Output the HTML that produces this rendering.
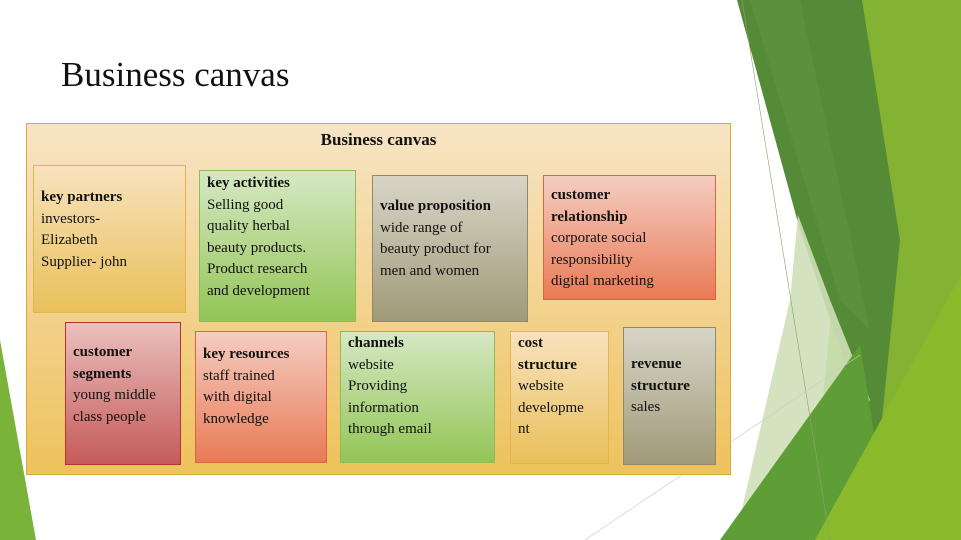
<!DOCTYPE html>
<html><head><style>
body{margin:0;width:961px;height:540px;position:relative;background:#fff;overflow:hidden;font-family:"Liberation Serif",serif;}
.b{position:absolute;box-sizing:border-box;font-size:15px;line-height:21.5px;color:#111;padding:0 7px;}
.b b{font-weight:bold;}
.y{background:linear-gradient(#f8e2bd,#e9c05a);border:1px solid #e2b64c;}
.g{background:linear-gradient(#d6e8c4,#93c556);border:1px solid #8dbb57;}
.s{background:linear-gradient(#d8d5c8,#a09a78);border:1px solid #8f8a6c;}
.r{background:linear-gradient(#f5cdc2,#e97a56);border:1px solid #d9663f;}
.m{background:linear-gradient(#ebc0bd,#c55a59);border:1px solid #b43434;}
</style></head><body>
<svg width="961" height="540" style="position:absolute;left:0;top:0">
<polygon points="0,340 0,540 36,540" fill="#7ab33a"/>
<polygon points="860,0 961,0 961,540 810,540" fill="#84b334"/>
<polygon points="737,0 862,0 900,240 878,460 800,230" fill="#558b36"/>
<polygon points="750,0 800,0 870,330 840,300" fill="#5f9640" opacity="0.6"/>
<polygon points="798,215 830,300 870,400 800,470 735,540 760,430 790,300" fill="#cfdfb8" opacity="0.9"/>
<polygon points="720,540 860,345 880,470 835,540" fill="#5f9e36"/>
<polygon points="961,275 961,540 815,540" fill="#8ab92c"/>
<line x1="742" y1="0" x2="830" y2="540" stroke="#8aa07a" stroke-width="0.6"/>
<line x1="585" y1="540" x2="860" y2="355" stroke="#c8c8c8" stroke-width="0.6"/>
</svg>
<div style="position:absolute;left:61px;top:55px;font-size:35px;color:#111;">Business canvas</div>
<div style="position:absolute;left:26px;top:123px;width:705px;height:352px;box-sizing:border-box;background:linear-gradient(#f7e4c4,#eec25c);border:1px solid #d9a93a;"></div>
<div style="position:absolute;left:26px;top:130px;width:705px;text-align:center;font-weight:bold;font-size:17px;color:#111;">Business canvas</div>
<div class="b y" style="left:33px;top:165px;width:153px;height:148px;padding-top:21px;"><b>key partners</b><br>investors-<br>Elizabeth<br>Supplier- john</div>
<div class="b g" style="left:199px;top:170px;width:157px;height:152px;padding-top:2px;"><b>key activities</b><br>Selling good<br>quality herbal<br>beauty products.<br>Product research<br>and development</div>
<div class="b s" style="left:372px;top:175px;width:156px;height:147px;padding-top:20px;"><b>value proposition</b><br>wide range of<br>beauty product for<br>men and women</div>
<div class="b r" style="left:543px;top:175px;width:173px;height:125px;padding-top:9px;"><b>customer<br>relationship</b><br>corporate social<br>responsibility<br>digital marketing</div>
<div class="b m" style="left:65px;top:322px;width:116px;height:143px;padding-top:19px;"><b>customer<br>segments</b><br>young middle<br>class people</div>
<div class="b r" style="left:195px;top:331px;width:132px;height:132px;padding-top:12px;"><b>key resources</b><br>staff trained<br>with digital<br>knowledge</div>
<div class="b g" style="left:340px;top:331px;width:155px;height:132px;padding-top:1px;"><b>channels</b><br>website<br>Providing<br>information<br>through email</div>
<div class="b y" style="left:510px;top:331px;width:99px;height:133px;padding-top:1px;"><b>cost<br>structure</b><br>website<br>developme<br>nt</div>
<div class="b s" style="left:623px;top:327px;width:93px;height:138px;padding-top:26px;"><b>revenue<br>structure</b><br>sales</div>
</body></html>
